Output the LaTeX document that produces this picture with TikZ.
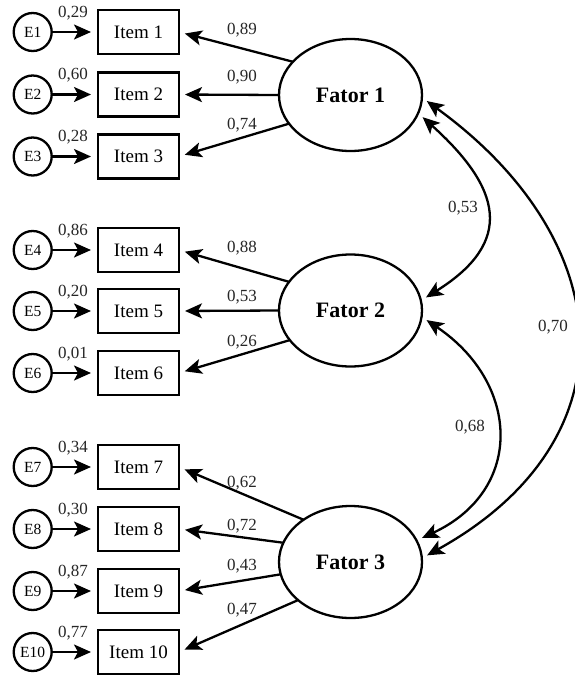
\documentclass[tikz,border=0pt]{standalone}
\usepackage{fontspec}
\setmainfont{Liberation Serif}
\usetikzlibrary{arrows.meta,shapes.geometric}
\begin{document}
\begin{tikzpicture}[x=1pt,y=1pt,
  itembox/.style={draw, line width=2.3pt, minimum width=81pt, minimum height=44pt, inner sep=0pt, outer sep=0pt, font=\fontsize{19}{22}\selectfont},
  errc/.style={draw, circle, line width=2.3pt, minimum size=38pt, inner sep=0pt, outer sep=0pt, font=\fontsize{15.5}{18}\selectfont},
  fator/.style={draw, ellipse, line width=2.3pt, minimum width=143pt, minimum height=112pt, inner sep=0pt, outer sep=0pt, font=\fontsize{22}{26}\selectfont\bfseries},
  arr/.style={line width=2.3pt, -{Stealth[length=17pt,width=15pt,inset=4pt]}},
  cov/.style={line width=2.3pt, {Stealth[length=17pt,width=15pt,inset=4pt]}-{Stealth[length=17pt,width=15pt,inset=4pt]}, shorten <=6pt, shorten >=6pt},
  num/.style={font=\fontsize{17}{20}\selectfont, inner sep=0pt, text=black!85}
]
\useasboundingbox (0,0) rectangle (575,-675);

% factors
\node[fator] (F1) at (350.5,-95) {Fator 1};
\node[fator] (F2) at (350.5,-310.5) {Fator 2};
\node[fator] (F3) at (350.5,-562) {Fator 3};

% items and errors
\foreach \i/\y/\v in {1/32/{0,29},2/94.5/{0,60},3/156.5/{0,28},4/250/{0,86},5/311/{0,20},6/373/{0,01},7/467/{0,34},8/529/{0,30},9/591/{0,87},10/652/{0,77}}{
  \node[itembox] (I\i) at (138.5,-\y) {Item \i};
  \node[errc] (E\i) at (32.7,-\y) {E\i};
  \draw[arr, shorten >=7pt] (E\i) -- (I\i);
  \node[num] at (73,-\y+19) {\v};
}

% loadings
\draw[arr, shorten >=6pt] (F1.150) -- (I1.east);
\draw[arr, shorten >=6pt] (F1.180) -- (I2.east);
\draw[arr, shorten >=6pt] (F1.205) -- (I3.east);
\draw[arr, shorten >=6pt] (F2.155) -- (I4.east);
\draw[arr, shorten >=6pt] (F2.180) -- (I5.east);
\draw[arr, shorten >=6pt] (F2.206) -- (I6.east);
\draw[arr, shorten >=6pt] (F3.138) -- (I7.east);
\draw[arr, shorten >=6pt] (F3.164) -- (I8.east);
\draw[arr, shorten >=6pt] (F3.190) -- (I9.east);
\draw[arr, shorten >=6pt] (F3.216) -- (I10.east);

\node[num] at (242,-30) {0,89};
\node[num] at (242,-77) {0,90};
\node[num] at (242,-125) {0,74};
\node[num] at (242,-248) {0,88};
\node[num] at (242,-297) {0,53};
\node[num] at (242,-342) {0,26};
\node[num] at (242,-483) {0,62};
\node[num] at (242,-526) {0,72};
\node[num] at (242,-566) {0,43};
\node[num] at (242,-610) {0,47};

% covariances
\draw[cov] (F1.-15) to[out=-42, in=32, looseness=1.52] (F2.8);
\draw[cov] (F2.-5) to[out=-34, in=25, looseness=1.36] (F3.18);
\draw[cov] (F1.-2) to[out=-36, in=29, looseness=1.36] (F3.3);

\node[num] at (463,-208) {0,53};
\node[num] at (470,-427) {0,68};
\node[num] at (553,-327) {0,70};
\end{tikzpicture}
\end{document}
